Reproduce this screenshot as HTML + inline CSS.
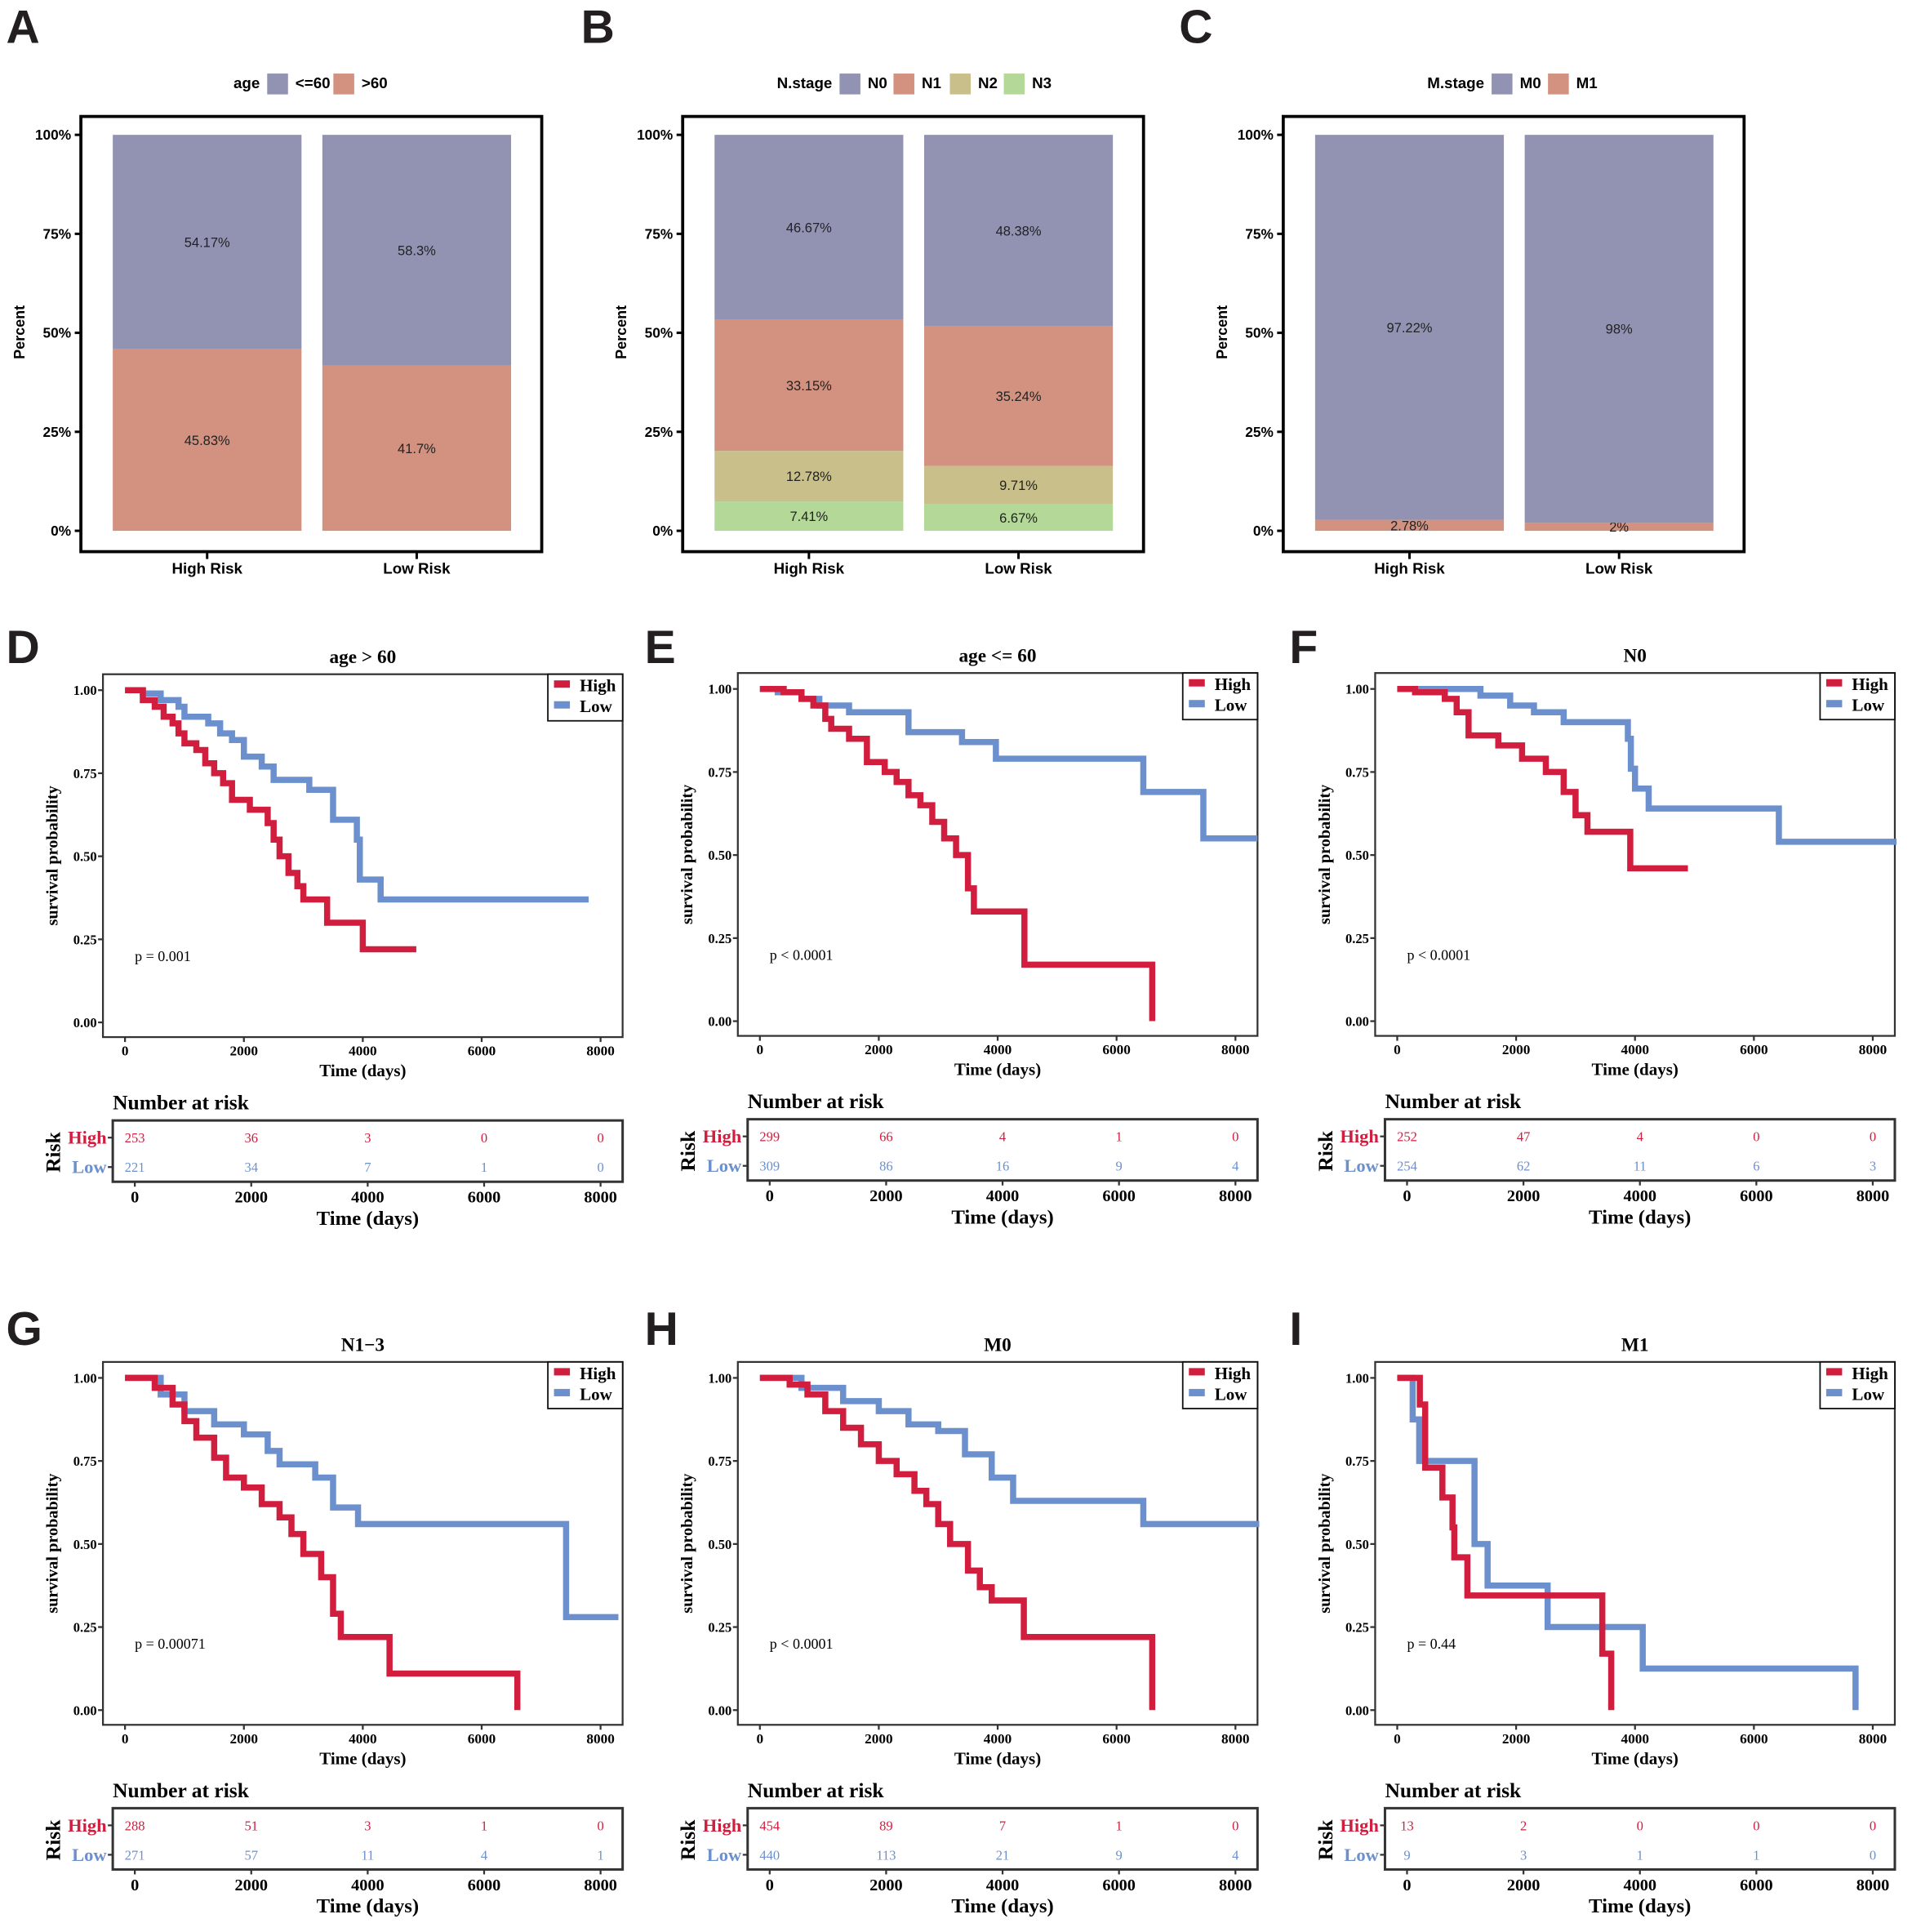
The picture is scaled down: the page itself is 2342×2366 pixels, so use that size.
<!DOCTYPE html>
<html><head><meta charset="utf-8">
<style>
html,body{margin:0;padding:0;background:#fff;}
svg{display:block;}
.sans{font-family:"Liberation Sans",Arial,sans-serif;}
.serif{font-family:"Liberation Serif","Times New Roman",serif;}
</style></head>
<body>
<svg id="fig" width="2342" height="2366" viewBox="0 0 1560 1576" preserveAspectRatio="none" xmlns="http://www.w3.org/2000/svg"></svg>
<script>
// ---------- Bar chart data ----------
const barCats = ["High Risk", "Low Risk"];
const ageLevels = ["<=60", ">60"];
const ageHigh = [54.17, 45.83];
const ageLow = [58.3, 41.7];
const nLevels = ["N0", "N1", "N2", "N3"];
const nHigh = [46.67, 33.15, 12.78, 7.41];
const nLow = [48.38, 35.24, 9.71, 6.67];
const mLevels = ["M0", "M1"];
const mHigh = [97.22, 2.78];
const mLow = [98, 2];
const pctTicks = ["0%", "25%", "50%", "75%", "100%"];
const pctTickVals = [0, 25, 50, 75, 100];

// ---------- KM data ----------
const kmTicks = [0, 2000, 4000, 6000, 8000];
const survTicks = [0, 0.25, 0.5, 0.75, 1.0];
const survTickLabels = ["0.00", "0.25", "0.50", "0.75", "1.00"];

const dHighT = [0,300,500,650,800,900,1000,1200,1350,1500,1650,1800,2100,2400,2500,2600,2750,2900,3000,3400,4000,4900];
const dHighS = [1,0.97,0.95,0.92,0.90,0.87,0.84,0.82,0.78,0.75,0.72,0.67,0.64,0.60,0.55,0.50,0.45,0.41,0.37,0.30,0.22,0.22];
const dLowT = [0,300,600,900,1000,1400,1600,1800,2000,2300,2500,3100,3500,3900,3950,4300,7800];
const dLowS = [1,0.99,0.97,0.95,0.92,0.90,0.87,0.85,0.80,0.77,0.73,0.70,0.61,0.55,0.43,0.37,0.37];

const eHighT = [0,400,700,900,1100,1200,1500,1800,2100,2300,2500,2700,2900,3100,3300,3500,3600,4450,6600,6600];
const eHighS = [1,0.99,0.97,0.95,0.91,0.88,0.85,0.78,0.75,0.72,0.68,0.65,0.60,0.55,0.50,0.40,0.33,0.17,0.17,0];
const eLowT = [0,300,700,1000,1500,2500,3400,3970,6450,7460,8370];
const eLowS = [1,0.99,0.97,0.95,0.93,0.87,0.84,0.79,0.69,0.55,0.55];

const fHighT = [0,300,800,1000,1200,1700,2100,2500,2800,3000,3200,3920,4890];
const fHighS = [1,0.99,0.97,0.93,0.86,0.83,0.79,0.75,0.69,0.62,0.57,0.46,0.46];
const fLowT = [0,800,1400,1900,2300,2800,3880,3930,4000,4230,6420,8400];
const fLowS = [1,1,0.98,0.95,0.93,0.90,0.85,0.76,0.70,0.64,0.54,0.54];

const gHighT = [0,500,800,1000,1200,1500,1700,2000,2300,2600,2800,3000,3300,3500,3630,4450,6600,6600];
const gHighS = [1,0.97,0.92,0.87,0.82,0.76,0.70,0.67,0.62,0.58,0.53,0.47,0.40,0.29,0.22,0.11,0.11,0];
const gLowT = [0,600,1000,1500,2000,2400,2600,3200,3500,3920,7420,8300];
const gLowS = [1,0.95,0.90,0.86,0.83,0.78,0.74,0.70,0.61,0.56,0.28,0.28];

const hHighT = [0,500,800,1100,1400,1700,2000,2300,2600,2800,3000,3200,3500,3700,3900,4440,6600,6600];
const hHighS = [1,0.98,0.95,0.90,0.85,0.80,0.75,0.71,0.66,0.62,0.56,0.50,0.42,0.37,0.33,0.22,0.22,0];
const hLowT = [0,700,1400,2000,2500,3000,3450,3900,4260,6450,8400];
const hLowS = [1,0.97,0.93,0.90,0.86,0.84,0.77,0.70,0.63,0.56,0.56];

const iHighT = [0,380,470,760,930,960,1180,3450,3600];
const iHighS = [1,0.92,0.73,0.64,0.55,0.46,0.345,0.17,0];
const iLowT = [0,260,370,1300,1520,2530,4130,7710];
const iLowS = [1,0.875,0.75,0.5,0.375,0.25,0.125,0];

const dRiskHigh = [253,36,3,0,0];  const dRiskLow = [221,34,7,1,0];
const eRiskHigh = [299,66,4,1,0];  const eRiskLow = [309,86,16,9,4];
const fRiskHigh = [252,47,4,0,0];  const fRiskLow = [254,62,11,6,3];
const gRiskHigh = [288,51,3,1,0];  const gRiskLow = [271,57,11,4,1];
const hRiskHigh = [454,89,7,1,0];  const hRiskLow = [440,113,21,9,4];
const iRiskHigh = [13,2,0,0,0];    const iRiskLow = [9,3,1,1,0];

const NS = "http://www.w3.org/2000/svg";
const fig = document.getElementById("fig");
function el(tag, attrs, parent, txt){
  const e = document.createElementNS(NS, tag);
  for (const k in attrs) e.setAttribute(k, attrs[k]);
  if (txt !== undefined) e.textContent = txt;
  (parent || fig).appendChild(e);
  return e;
}
const RED = "#d11d3e", BLUE = "#6b90cd";
const SEG = ["#9293b3", "#d3917f", "#c9bf8a", "#b3d897"];

// ---------- Panel letters ----------
const letters = [["A",5,35],["B",474,35],["C",962,35],["D",5,541],["E",526,541],["F",1052,541],["G",5,1097],["H",526,1097],["I",1052,1097]];
letters.forEach(l=>{
  const t = el("text",{x:l[1],y:l[2],"font-size":38,"font-weight":"bold",class:"sans",fill:"#231f20"},fig,l[0]);
  
  
});

// ---------- Bar panels ----------
function barPanel(ox, title, levels, highVals, lowVals, legendX, name){
  const g = el("g",{});
  
  
  const y0 = 433, y100 = 110;
  const yS = v => y0 - (y100 - y0) * -v / 100;
  const bx = [[92,246],[263,417]];
  // legend
  const lt = el("text",{x:legendX[0],y:72,"font-size":12.5,"font-weight":"bold",class:"sans","text-anchor":"end"},g,title);
  
  
  levels.forEach((lv,i)=>{
    const sx = legendX[1+i];
    const r = el("rect",{x:ox+sx,y:60,width:17,height:17,fill:SEG[i]},g);
    
    
    const t = el("text",{x:ox+sx+23,y:72,"font-size":12.5,"font-weight":"bold",class:"sans"},g,lv);
    
    
  });
  lt.setAttribute("x", ox + legendX[0]);
  // frame
  const fr = el("rect",{x:ox+66,y:95,width:376,height:355,fill:"none",stroke:"#000","stroke-width":2.5},g);
  
  
  // y ticks
  pctTickVals.forEach((v,i)=>{
    el("line",{x1:ox+61,x2:ox+66,y1:yS(v),y2:yS(v),stroke:"#000","stroke-width":2},g);
    const t = el("text",{x:ox+58,y:yS(v)+4,"font-size":11.5,"font-weight":"bold",class:"sans","text-anchor":"end"},g,pctTicks[i]);
    
    
  });
  const yl = el("text",{x:0,y:0,"font-size":12,"font-weight":"bold",class:"sans","text-anchor":"middle",transform:`translate(${ox+20},271) rotate(-90)`},g,"Percent");
  
  
  [highVals, lowVals].forEach((vals, bi)=>{
    let cum = 0;
    for (let k = vals.length - 1; k >= 0; k--){
      const bot = cum, top = cum + vals[k];
      cum = top;
      const yt = yS(Math.min(top,100)), yb = yS(bot);
      const r = el("rect",{x:ox+bx[bi][0],y:yt,width:bx[bi][1]-bx[bi][0],height:yb-yt,fill:SEG[k]},g);
      
      
      const t = el("text",{x:ox+(bx[bi][0]+bx[bi][1])/2,y:(yt+yb)/2+4,"font-size":11,class:"sans","text-anchor":"middle",fill:"#222"},g,vals[k]+"%");
      
      
    }
    const cx = ox+(bx[bi][0]+bx[bi][1])/2;
    el("line",{x1:cx,x2:cx,y1:450,y2:456,stroke:"#000","stroke-width":2},g);
    const t = el("text",{x:cx,y:468,"font-size":12.5,"font-weight":"bold",class:"sans","text-anchor":"middle"},g,barCats[bi]);
    
    
  });
}
barPanel(0, "age", ageLevels, ageHigh, ageLow, [212,218,272], "bar-panel-age");
barPanel(491, "N.stage", nLevels, nHigh, nLow, [188,194,238,284,328], "bar-panel-n-stage");
barPanel(981, "M.stage", mLevels, mHigh, mLow, [230,236,282], "bar-panel-m-stage");

// ---------- KM panels ----------
function kmPanel(dx, dy, title, pText, highT, highS, lowT, lowS, riskH, riskL, name){
  const g = el("g",{});
  
  
  const xS = t => dx + 102 + t * 0.0485;
  const yS = s => dy + 834 - s * 271;
  const xR = t => dx + 110 + t * 0.0475;
  const tt = el("text",{x:dx+296,y:dy+541,"font-size":15.5,"font-weight":"bold",class:"serif","text-anchor":"middle"},g,title);
  
  
  const fr = el("rect",{x:dx+84,y:dy+550,width:424,height:296,fill:"none",stroke:"#333","stroke-width":1.5},g);
  
  
  survTicks.forEach((v,i)=>{
    el("line",{x1:dx+80,x2:dx+84,y1:yS(v),y2:yS(v),stroke:"#333","stroke-width":1.5},g);
    const t = el("text",{x:dx+79,y:yS(v)+4,"font-size":11,"font-weight":"bold",class:"serif","text-anchor":"end"},g,survTickLabels[i]);
    
    
  });
  kmTicks.forEach(v=>{
    el("line",{x1:xS(v),x2:xS(v),y1:dy+846,y2:dy+850,stroke:"#333","stroke-width":1.5},g);
    const t = el("text",{x:xS(v),y:dy+861,"font-size":11.5,"font-weight":"bold",class:"serif","text-anchor":"middle"},g,String(v));
    
    
  });
  const xl = el("text",{x:dx+296,y:dy+878,"font-size":14,"font-weight":"bold",class:"serif","text-anchor":"middle"},g,"Time (days)");
  
  
  const yl = el("text",{x:0,y:0,"font-size":13.5,"font-weight":"bold",class:"serif","text-anchor":"middle",transform:`translate(${dx+47},${dy+698}) rotate(-90)`},g,"survival probability");
  
  
  function curve(T, S, col, nm){
    let d = `M${xS(T[0])},${yS(S[0])}`;
    for (let i = 1; i < T.length; i++){ d += ` H${xS(T[i])} V${yS(S[i])}`; }
    const p = el("path",{d:d,fill:"none",stroke:col,"stroke-width":5,"stroke-linejoin":"miter"},g);
    
    
  }
  curve(lowT, lowS, BLUE, "km-curve-low");
  curve(highT, highS, RED, "km-curve-high");
  const pt = el("text",{x:dx+110,y:dy+784,"font-size":12,class:"serif"},g,pText);
  
  
  // legend
  const lb = el("rect",{x:dx+447,y:dy+550,width:61,height:38,fill:"#fff",stroke:"#111","stroke-width":1.2},g);
  
  
  el("rect",{x:dx+452,y:dy+555,width:13,height:6,fill:RED},g);
  el("rect",{x:dx+452,y:dy+572,width:13,height:6,fill:BLUE},g);
  const lh = el("text",{x:dx+473,y:dy+564,"font-size":14,"font-weight":"bold",class:"serif"},g,"High");
  
  
  const ll = el("text",{x:dx+473,y:dy+581,"font-size":14,"font-weight":"bold",class:"serif"},g,"Low");
  
  
  // risk table
  const nr = el("text",{x:dx+92,y:dy+905,"font-size":17,"font-weight":"bold",class:"serif"},g,"Number at risk");
  
  
  const rb = el("rect",{x:dx+92,y:dy+914,width:416,height:50,fill:"none",stroke:"#333","stroke-width":2},g);
  
  
  el("line",{x1:dx+88,x2:dx+92,y1:dy+928,y2:dy+928,stroke:"#333","stroke-width":1.5},g);
  el("line",{x1:dx+88,x2:dx+92,y1:dy+952,y2:dy+952,stroke:"#333","stroke-width":1.5},g);
  const rh = el("text",{x:dx+87,y:dy+933,"font-size":15,"font-weight":"bold",class:"serif","text-anchor":"end",fill:RED},g,"High");
  
  
  const rl = el("text",{x:dx+87,y:dy+957,"font-size":15,"font-weight":"bold",class:"serif","text-anchor":"end",fill:BLUE},g,"Low");
  
  
  const rk = el("text",{x:0,y:0,"font-size":17,"font-weight":"bold",class:"serif","text-anchor":"middle",transform:`translate(${dx+49},${dy+940}) rotate(-90)`},g,"Risk");
  
  
  kmTicks.forEach((v,i)=>{
    const a = el("text",{x:xR(v),y:dy+932,"font-size":11,class:"serif","text-anchor":"middle",fill:RED},g,String(riskH[i]));
    
    
    const b = el("text",{x:xR(v),y:dy+956,"font-size":11,class:"serif","text-anchor":"middle",fill:BLUE},g,String(riskL[i]));
    
    
    el("line",{x1:xR(v),x2:xR(v),y1:dy+964,y2:dy+968,stroke:"#333","stroke-width":1.5},g);
    const c = el("text",{x:xR(v),y:dy+981,"font-size":13.5,"font-weight":"bold",class:"serif","text-anchor":"middle"},g,String(v));
    
    
  });
  const rx = el("text",{x:dx+300,y:dy+999,"font-size":16.5,"font-weight":"bold",class:"serif","text-anchor":"middle"},g,"Time (days)");
  
  
}
kmPanel(0, 0, "age > 60", "p = 0.001", dHighT, dHighS, dLowT, dLowS, dRiskHigh, dRiskLow, "km-panel-age-over-60");
kmPanel(518, -1, "age <= 60", "p < 0.0001", eHighT, eHighS, eLowT, eLowS, eRiskHigh, eRiskLow, "km-panel-age-under-60");
kmPanel(1038, -1, "N0", "p < 0.0001", fHighT, fHighS, fLowT, fLowS, fRiskHigh, fRiskLow, "km-panel-n0");
kmPanel(0, 561, "N1\u22123", "p = 0.00071", gHighT, gHighS, gLowT, gLowS, gRiskHigh, gRiskLow, "km-panel-n1-3");
kmPanel(518, 561, "M0", "p < 0.0001", hHighT, hHighS, hLowT, hLowS, hRiskHigh, hRiskLow, "km-panel-m0");
kmPanel(1038, 561, "M1", "p = 0.44", iHighT, iHighS, iLowT, iLowS, iRiskHigh, iRiskLow, "km-panel-m1");
</script>
</body></html>
